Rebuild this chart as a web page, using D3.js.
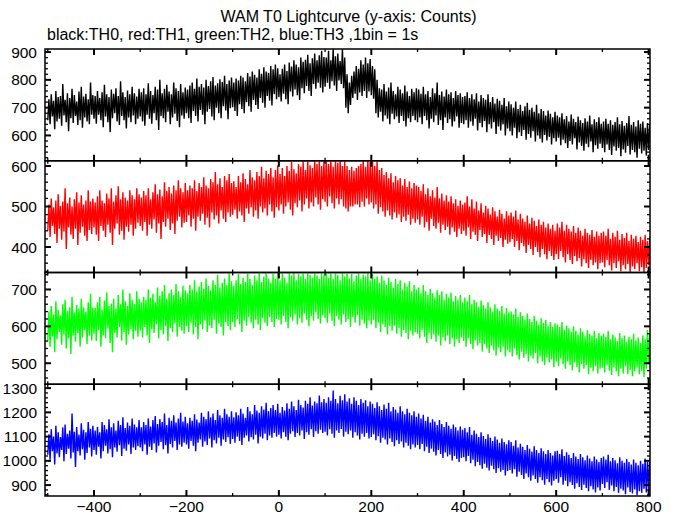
<!DOCTYPE html>
<html>
<head>
<meta charset="utf-8">
<script src="https://cdn.jsdelivr.net/npm/d3@7"></script>
<style>
html,body{margin:0;padding:0;background:#fff;}
svg{display:block;font-family:"Liberation Sans",Arial,Helvetica,sans-serif;}
</style>
</head>
<body>
<svg id="chart" width="674" height="515"></svg>
<script>
// ---------------- DATA ----------------
const titleText = "WAM T0 Lightcurve (y-axis: Counts)";
const subtitleText = "black:TH0, red:TH1, green:TH2, blue:TH3 ,1bin = 1s";
const binStart = -500, binWidth = 5;   // seconds per envelope bin
const xMajorTicks = [-400, -200, 0, 200, 400, 600, 800];
const xMinorTicks = [-500, -300, -100, 100, 300, 500, 700];
const seriesNames = ["TH0", "TH1", "TH2", "TH3"];
const seriesColors = ["#000000", "#ff0000", "#00ff00", "#0000ff"];

// per-5s-bin low / high counts (rows of 100 s)
const th0Lo = [
655,640,668,622,650,660,635,672,648,615,662,645,670,638,655,628,665,650,640,675,
660,642,675,655,630,668,648,612,662,680,650,638,670,655,625,665,648,672,640,660,
668,650,635,675,660,642,680,655,620,670,662,648,685,640,665,678,652,630,672,660,
680,662,645,688,670,650,692,675,640,685,695,668,655,700,680,662,705,690,658,698,
702,688,670,712,695,680,720,705,685,728,710,695,735,718,700,742,725,708,748,730,
738,722,750,730,712,758,740,765,745,728,770,752,778,760,742,785,768,790,772,755,
775,790,768,795,780,760,798,785,770,700,680,710,735,750,728,755,742,760,735,758,
745,732,680,665,685,650,672,660,640,678,658,668,645,670,652,632,662,648,670,655,
648,665,640,670,655,625,660,648,672,638,655,620,665,645,658,632,650,668,628,645,
640,655,628,650,635,660,618,645,630,652,612,640,625,648,605,632,618,640,600,625,
615,600,628,590,612,598,620,585,605,592,615,578,600,588,575,602,582,595,568,590,
578,592,565,585,572,555,580,568,590,550,575,562,545,570,558,578,540,565,552,570,
555,540,568,548,530,560,545,555,525,550,538,562,532,548,540,520,552,535,545,528,
548];
const th0Hi = [
730,748,725,760,738,742,785,728,752,735,768,745,722,758,775,740,750,730,790,745,
742,760,735,755,782,748,738,765,750,770,742,795,755,738,762,748,775,752,740,768,
755,770,748,788,760,745,775,765,800,752,768,782,758,748,790,770,760,785,755,772,
765,780,790,768,805,775,785,772,800,778,795,810,780,788,802,792,815,785,798,808,
790,805,798,815,808,795,825,812,830,818,808,838,822,845,830,825,850,838,855,842,
820,840,855,832,862,848,870,855,845,880,865,872,890,860,878,895,870,888,905,882,
880,905,870,912,885,895,868,912,880,820,790,815,830,850,840,870,855,880,860,875,
850,838,800,770,765,785,758,772,790,760,748,775,765,752,780,758,742,768,755,770,
765,750,775,748,760,738,770,752,790,745,758,740,765,748,755,735,760,745,752,738,
742,755,735,748,730,752,722,745,735,728,748,720,738,715,732,725,710,735,705,722,
712,700,722,695,710,688,705,718,692,700,685,710,680,695,688,672,690,678,665,685,
672,665,680,658,670,650,675,660,648,668,655,645,662,650,672,640,658,648,665,642,
650,660,642,655,638,648,665,640,652,635,645,670,638,648,632,655,642,650,628,645,
640];

const th1Lo = [
440,425,452,432,410,445,418,438,395,448,430,420,445,405,435,450,428,415,442,432,
448,430,415,452,440,425,455,435,405,445,458,430,440,418,450,438,455,428,445,460,
452,440,462,428,455,445,468,435,458,420,462,450,470,442,458,432,465,475,448,460,
462,478,450,470,440,475,465,482,455,472,448,485,468,478,458,490,470,462,485,475,
480,492,470,488,478,462,495,482,498,475,490,470,500,485,495,478,505,488,472,498,
490,505,482,500,510,492,478,508,498,515,488,505,520,495,510,500,522,505,492,518,
512,500,525,508,495,520,505,518,500,495,488,500,500,505,505,498,512,500,520,505,
510,495,505,482,498,488,475,490,478,468,485,472,480,462,475,465,480,455,470,460,
468,455,475,448,462,440,470,452,445,460,435,455,442,450,430,448,438,425,445,432,
440,428,448,420,438,430,415,442,425,432,410,430,420,405,428,415,422,400,418,408,
412,420,400,415,392,410,402,385,405,395,380,400,388,375,395,382,370,390,378,368,
382,370,390,375,362,382,368,358,378,365,372,352,370,360,348,368,355,362,345,360,
362,350,368,355,342,360,348,365,340,355,345,358,338,352,345,360,340,350,335,348,
355];
const th1Hi = [
505,520,498,515,530,502,512,545,508,522,500,518,535,510,528,505,515,540,512,520,
510,525,540,515,508,532,520,545,512,528,550,518,535,522,515,540,528,518,545,530,
522,538,528,545,518,535,555,530,542,525,560,538,548,532,552,540,565,545,535,558,
540,552,545,565,538,558,548,572,552,545,568,560,585,555,570,548,575,565,580,558,
562,548,575,560,582,568,555,590,572,565,585,575,598,570,588,580,595,572,590,602,
580,595,575,600,588,610,592,582,605,598,612,590,615,602,595,615,605,615,600,612,
615,605,615,598,615,608,615,600,612,600,590,598,588,595,600,605,615,598,615,610,
615,600,612,590,595,578,585,570,582,560,575,565,570,552,568,548,562,545,558,552,
548,538,555,530,545,525,540,522,548,520,532,515,528,512,525,508,518,502,515,505,
510,525,500,518,495,512,490,508,485,502,495,480,498,488,475,492,482,470,488,478,
485,475,490,468,482,470,462,478,458,472,465,452,468,455,462,448,458,445,455,440,
458,448,462,440,455,445,438,452,435,448,440,428,445,435,430,442,425,438,428,435,
438,428,445,420,435,425,440,418,432,422,435,415,430,420,428,412,425,418,430,415,
425];

const th2Lo = [
560,545,572,530,565,585,550,578,540,568,525,575,558,582,545,570,590,552,575,562,
580,560,590,545,575,568,595,555,530,582,570,598,562,585,550,578,592,565,588,572,
588,570,598,575,555,592,582,605,568,590,578,600,560,595,585,608,572,598,588,580,
600,585,610,578,598,565,605,592,615,585,602,595,618,580,608,598,575,612,600,590,
612,598,620,605,585,615,602,625,610,595,618,605,590,622,610,600,625,612,598,620,
618,605,628,612,595,625,615,632,605,622,610,635,618,600,628,615,638,620,608,630,
622,610,635,615,600,628,618,605,632,612,620,598,625,610,630,602,618,608,595,615,
605,618,595,610,585,605,598,578,600,588,602,580,595,572,590,582,565,588,575,585,
580,568,590,572,555,582,565,578,558,575,548,570,560,575,552,568,545,565,555,570,
560,545,568,552,538,562,548,555,532,552,540,528,548,535,520,542,530,545,518,535,
530,518,540,522,510,532,515,525,505,520,512,528,500,518,505,495,515,502,510,490,
505,492,512,498,485,505,495,480,502,490,475,498,485,495,470,488,478,492,472,485,
488,475,495,480,468,490,478,465,485,472,492,470,482,465,478,488,470,480,462,485,
500];
const th2Hi = [
640,655,632,668,645,630,660,672,642,652,680,638,658,648,675,652,640,665,688,650,
650,665,680,645,670,692,655,662,675,648,685,660,700,668,655,690,672,660,695,675,
665,680,672,700,678,688,665,705,682,695,712,675,690,700,685,715,695,680,710,698,
690,712,700,725,695,708,720,702,730,710,698,725,712,740,705,718,730,712,745,722,
710,725,742,715,732,720,745,728,712,738,725,745,720,735,745,730,718,742,728,745,
725,745,732,718,745,738,745,725,742,735,745,728,745,740,732,745,738,728,745,740,
745,732,745,728,745,740,725,745,735,745,730,742,722,738,745,728,740,735,745,725,
742,728,735,718,738,725,712,732,720,705,728,715,725,700,718,708,722,695,712,700,
705,690,712,695,685,702,690,678,698,685,695,672,688,678,692,668,682,672,685,665,
678,668,685,660,672,665,652,670,658,648,665,652,640,660,648,642,655,635,650,638,
640,632,648,625,638,628,618,635,620,612,628,615,605,622,610,618,600,612,598,608,
605,598,612,590,602,595,585,600,588,578,595,585,572,590,580,575,588,568,582,575,
580,572,588,565,578,570,560,582,568,575,558,572,565,580,562,570,555,575,565,590,
580];

const th3Lo = [
1025,1005,1040,985,1030,1015,1045,998,1028,1050,1010,1035,975,1040,1022,1048,1005,1032,1055,1018,
1045,1025,1058,1010,1040,1062,1030,1048,1015,1055,1038,1065,1020,1050,1042,1068,1028,1055,1045,1060,
1055,1040,1068,1025,1058,1045,1072,1035,1062,1078,1048,1065,1030,1070,1055,1082,1045,1068,1058,1075,
1068,1050,1082,1062,1040,1075,1088,1058,1080,1065,1092,1055,1085,1072,1095,1062,1088,1078,1098,1070,
1090,1075,1100,1082,1065,1095,1105,1080,1098,1088,1108,1072,1100,1092,1112,1085,1105,1095,1115,1100,
1108,1092,1118,1100,1085,1112,1122,1098,1115,1105,1125,1090,1118,1108,1130,1098,1122,1112,1128,1115,
1120,1105,1130,1112,1095,1125,1115,1132,1100,1120,1110,1125,1095,1118,1105,1088,1112,1100,1115,1092,
1098,1110,1085,1102,1075,1095,1088,1068,1092,1078,1060,1085,1070,1080,1055,1075,1062,1048,1068,1055,
1065,1048,1070,1040,1058,1032,1050,1038,1022,1045,1028,1012,1035,1018,1025,1002,1020,1008,995,1012,
1015,998,1020,990,1005,978,995,982,968,988,972,960,980,965,950,970,955,962,940,958,
962,948,965,935,955,942,925,948,932,918,940,925,910,932,920,902,925,912,898,918,
925,910,932,902,918,895,912,900,885,908,892,880,902,888,875,895,882,870,890,878,
905,888,912,880,898,875,892,868,885,878,862,890,872,865,882,858,875,868,885,870,
880];
const th3Hi = [
1110,1130,1100,1145,1118,1098,1138,1150,1112,1125,1195,1120,1140,1108,1155,1128,1118,1160,1132,1145,
1125,1140,1118,1160,1148,1130,1172,1138,1155,1125,1165,1148,1180,1135,1158,1145,1175,1150,1138,1168,
1138,1160,1148,1175,1142,1168,1185,1152,1172,1160,1195,1148,1178,1165,1188,1158,1175,1198,1162,1182,
1155,1178,1165,1192,1170,1158,1198,1182,1172,1205,1180,1195,1168,1210,1188,1178,1215,1192,1182,1205,
1180,1200,1188,1215,1195,1178,1222,1205,1192,1230,1208,1198,1225,1212,1240,1205,1218,1230,1210,1235,
1198,1222,1208,1238,1215,1245,1225,1210,1252,1230,1220,1248,1235,1262,1228,1245,1238,1270,1242,1255,
1240,1262,1248,1290,1255,1238,1268,1250,1275,1245,1258,1235,1262,1248,1230,1255,1240,1250,1225,1245,
1235,1218,1242,1225,1210,1232,1215,1240,1205,1222,1212,1198,1225,1205,1192,1215,1198,1188,1205,1182,
1195,1175,1190,1165,1182,1158,1172,1162,1148,1168,1152,1140,1160,1145,1132,1150,1138,1125,1142,1128,
1135,1118,1140,1108,1125,1112,1098,1118,1102,1090,1110,1095,1082,1100,1088,1075,1092,1078,1068,1085,
1078,1062,1085,1055,1070,1058,1045,1065,1050,1038,1060,1045,1032,1052,1040,1028,1045,1032,1022,1040,
1042,1028,1048,1020,1035,1025,1012,1032,1018,1008,1028,1015,1002,1022,1010,998,1018,1005,995,1012,
1018,1005,1025,998,1012,1002,990,1015,1000,992,1008,995,985,1005,992,982,1000,988,1010,995,
1010];

// y-axis domains and labelled ticks per panel
const yDomains = [[509, 911], [337, 613], [443, 746], [855, 1316]];
const yTickLabels = [[600, 700, 800, 900], [400, 500, 600], [500, 600, 700], [900, 1000, 1100, 1200, 1300]];
const yMinorStep = 20, yMajorStep = 100;

const loSeries = [th0Lo, th1Lo, th2Lo, th3Lo];
const hiSeries = [th0Hi, th1Hi, th2Hi, th3Hi];

// ---------------- LAYOUT ----------------
const W = 674, H = 515;
const plotLeft = 45, plotRight = 650, plotTop = 49, plotBottom = 496;
const nPanels = 4;
const panelH = (plotBottom - plotTop) / nPanels;
const majorLen = 6, minorLen = 3;
const fontSize = 15.5;
const titleSize = 16;

const svg = d3.select("#chart");
svg.append("rect").attr("width", W).attr("height", H).attr("fill", "#fff");

const x = d3.scaleLinear().domain([-506, 803]).range([plotLeft, plotRight]);

svg.append("text").attr("x", 348.5).attr("y", 22).attr("text-anchor", "middle")
  .attr("font-size", titleSize).text(titleText);
svg.append("text").attr("x", 47).attr("y", 40).attr("text-anchor", "start")
  .attr("font-size", titleSize).text(subtitleText);

const defs = svg.append("defs");

for (let p = 0; p < nPanels; p++) {
  const top = plotTop + p * panelH, bot = top + panelH;
  const y = d3.scaleLinear().domain(yDomains[p]).range([bot, top]);
  const g = svg.append("g");

  defs.append("clipPath").attr("id", "clip" + p)
    .append("rect").attr("x", plotLeft).attr("y", top).attr("width", plotRight - plotLeft).attr("height", panelH);

  // data: each bin drawn from its low to its high value
  const lo = loSeries[p], hi = hiSeries[p];
  const n = Math.min(lo.length, hi.length);
  const pts = [];
  for (let i = 0; i < n; i++) {
    const t = binStart + i * binWidth;
    pts.push([t, lo[i]]);
    pts.push([t + binWidth / 2, hi[i]]);
  }
  const line = d3.line().x(d => x(d[0])).y(d => y(d[1]));
  g.append("path").datum(pts).attr("d", line)
    .attr("fill", "none").attr("stroke", seriesColors[p]).attr("stroke-width", 1.4)
    .attr("stroke-linejoin", "bevel")
    .attr("clip-path", "url(#clip" + p + ")");

  // frame
  g.append("rect").attr("x", plotLeft).attr("y", top).attr("width", plotRight - plotLeft).attr("height", panelH)
    .attr("fill", "none").attr("stroke", "#000").attr("stroke-width", 1.5);

  // y ticks (left & right)
  const yAll = d3.range(Math.ceil(yDomains[p][0] / yMinorStep) * yMinorStep, yDomains[p][1] + 0.001, yMinorStep);
  yAll.forEach(v => {
    const isMajor = v % yMajorStep === 0;
    const len = isMajor ? majorLen : minorLen;
    const yy = y(v);
    g.append("line").attr("x1", plotLeft).attr("x2", plotLeft + len).attr("y1", yy).attr("y2", yy)
      .attr("stroke", "#000").attr("stroke-width", isMajor ? 2 : 1.3);
    g.append("line").attr("x1", plotRight).attr("x2", plotRight - len).attr("y1", yy).attr("y2", yy)
      .attr("stroke", "#000").attr("stroke-width", isMajor ? 2 : 1.3);
  });
  yTickLabels[p].forEach(v => {
    g.append("text").attr("x", plotLeft - 8).attr("y", y(v)).attr("dy", "0.36em")
      .attr("text-anchor", "end").attr("font-size", fontSize).text(v);
  });

  // x ticks (top & bottom of each panel)
  const xTicks = xMajorTicks.map(t => [t, true]).concat(xMinorTicks.map(t => [t, false]));
  xTicks.forEach(([t, isMajor]) => {
    const len = isMajor ? majorLen : minorLen;
    const xx = x(t);
    g.append("line").attr("x1", xx).attr("x2", xx).attr("y1", top).attr("y2", top + len)
      .attr("stroke", "#000").attr("stroke-width", isMajor ? 2 : 1.3);
    g.append("line").attr("x1", xx).attr("x2", xx).attr("y1", bot).attr("y2", bot - len)
      .attr("stroke", "#000").attr("stroke-width", isMajor ? 2 : 1.3);
  });

  if (p === nPanels - 1) {
    xMajorTicks.forEach(t => {
      svg.append("text").attr("x", x(t)).attr("y", bot + 16).attr("text-anchor", "middle")
        .attr("font-size", fontSize).text(d3.format("")(t));
    });
  }
}
</script>
</body>
</html>
